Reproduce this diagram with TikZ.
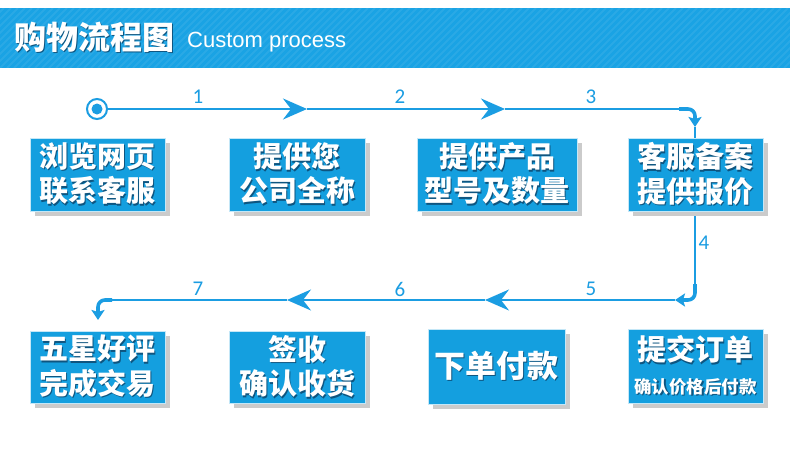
\documentclass[tikz,border=0pt]{standalone}
\usepackage{fontspec}
\setmainfont{Liberation Sans}
\newfontfamily\cjk{Noto Sans CJK SC}
\newfontfamily\numfont{Carlito}
\usetikzlibrary{arrows.meta,calc}
\definecolor{hdr}{HTML}{1AA3E4}
\definecolor{boxblue}{HTML}{149FDF}
\definecolor{lineblue}{HTML}{1B9DE2}
\definecolor{shadowgray}{HTML}{CBCBCB}
\definecolor{txtshadow}{HTML}{0E5580}
\newcommand\shd[1]{\makebox[0pt][l]{\kern1.4pt\raisebox{-1.6pt}{\textcolor{txtshadow}{#1}}}#1}
\tikzset{
  boxshade/.style={fill=shadowgray, draw=none, inner sep=0, rectangle},
  boxmain/.style={fill=boxblue, draw=white!75!boxblue, line width=0.6pt, inner sep=0, rectangle},
  bigtxt/.style={font=\cjk\bfseries\fontsize{29}{34.5}\selectfont, align=center, inner sep=0, text=white},
  flow/.style={draw=lineblue, line width=2pt},
  bigtip/.style={-{Stealth[length=24pt,width=21pt,inset=8pt]}},
  corner/.style={draw=lineblue, line width=3.6pt, rounded corners=7pt,
    -{Stealth[length=10pt,width=13pt,inset=2pt]}},
  numlbl/.style={font=\numfont\fontsize{21}{24}\selectfont, text=lineblue, inner sep=0}
}
\newcommand\flowbox[4]{% name, center, width, height
  \node[boxshade, minimum width=#3, minimum height=#4] (#1-s) at ($(#2)+(5,5)$) {};
  \node[boxmain, minimum width=#3, minimum height=#4] (#1) at (#2) {};
}
\begin{document}
\begin{tikzpicture}[x=1pt,y=-1pt]
\useasboundingbox (0,0) rectangle (790,450);
\fill[white] (0,0) rectangle (790,450);
% header
\fill[hdr] (0,8) rectangle (790,68);
\begin{scope}
  \clip (0,8) rectangle (790,68);
  \foreach \x in {-70,-63,...,800}
    \draw[white, opacity=0.07, line width=2pt] (\x,68) -- ++(60,-60);
\end{scope}
\node[font=\cjk\bfseries\fontsize{32}{36}\selectfont, text=white, anchor=west, inner sep=0] (title) at (14,38) {\shd{购物流程图}};
\node[font=\fontsize{22}{26}\selectfont, text=white, anchor=base west, inner sep=0] (sub) at (187,47) {Custom process};

% way points
\coordinate (a1) at (307,109);
\coordinate (a2) at (505,109);
\coordinate (c1) at (679,109);
\coordinate (d1) at (695,127);
\coordinate (c2) at (695,284);
\coordinate (d2) at (675,300);
\coordinate (a3) at (485,300);
\coordinate (a4) at (287,300);
\coordinate (c3) at (112,300);
\coordinate (d3) at (98,320);

% start marker
\node[circle, draw=lineblue, line width=2pt, fill=white, minimum size=20pt, inner sep=0] (start) at (97,109) {};
\node[circle, fill=lineblue, minimum size=11pt, inner sep=0] (startin) at (start) {};

% connectors
\draw[flow, bigtip] (start) -- (a1);
\draw[flow, bigtip] (a1) -- (a2);
\draw[flow] (a2) -- (c1);
\draw[corner] (c1) -| (d1);
\draw[flow] (d1) -- (c2);
\draw[corner] (c2) |- (d2);
\draw[flow, bigtip] (d2) -- (a3);
\draw[flow, bigtip] (a3) -- (a4);
\draw[flow] (a4) -- (c3);
\draw[corner] (c3) -| (d3);

% labels
\node[numlbl] (l1) at (198,97) {1};
\node[numlbl] (l2) at (400,97) {2};
\node[numlbl] (l3) at (591,97) {3};
\node[numlbl] (l4) at (704,243) {4};
\node[numlbl] (l5) at (591,289) {5};
\node[numlbl] (l6) at (400,289) {6};
\node[numlbl] (l7) at (198,289) {7};

% boxes row 1
\flowbox{b1}{97.5,174.5}{135pt}{73pt}
\flowbox{b2}{297,174.5}{136pt}{73pt}
\flowbox{b3}{497,174.5}{160pt}{73pt}
\flowbox{b4}{695.5,174.5}{135pt}{73pt}
% boxes row 2
\flowbox{b5}{695.5,366}{135pt}{74pt}
\flowbox{b6}{496.5,366.5}{137pt}{75pt}
\flowbox{b7}{297,367}{136pt}{72pt}
\flowbox{b8}{97.5,367}{135pt}{72pt}

\node[bigtxt] (b1-t) at (b1) {\shd{浏览网页}\\\shd{联系客服}};
\node[bigtxt] (b2-t) at (b2) {\shd{提供您}\\\shd{公司全称}};
\node[bigtxt] (b3-t) at (b3) {\shd{提供产品}\\\shd{型号及数量}};
\node[bigtxt] (b4-t) at (b4) {\shd{客服备案}\\\shd{提供报价}};
\node[bigtxt] (b5-t) at (b5) {\shd{提交订单}\\[-2pt]{\fontsize{17.5}{20}\selectfont\shd{确认价格后付款}}};
\node[bigtxt, font=\cjk\bfseries\fontsize{31}{34}\selectfont] (b6-t) at (b6) {\shd{下单付款}};
\node[bigtxt] (b7-t) at (b7) {\shd{签收}\\\shd{确认收货}};
\node[bigtxt] (b8-t) at (b8) {\shd{五星好评}\\\shd{完成交易}};
\end{tikzpicture}
\end{document}
